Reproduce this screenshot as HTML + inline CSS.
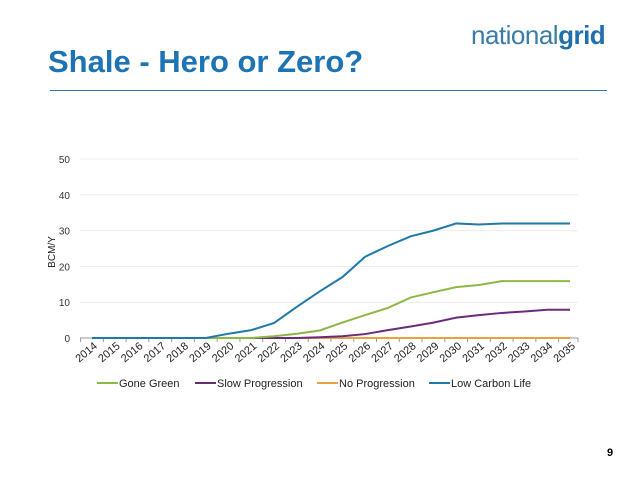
<!DOCTYPE html>
<html><head><meta charset="utf-8"><style>
body{margin:0;width:638px;height:479px;background:#fff;font-family:"Liberation Sans",sans-serif;position:relative;overflow:hidden}
.t{position:absolute}
</style></head><body>
<div class="t" style="left:471px;top:20px;font-size:26px;color:#3a7ca5;letter-spacing:-0.5px">national<b style="color:#1f6fae">grid</b></div>
<div class="t" style="left:48px;top:44px;font-size:31px;font-weight:bold;color:#1c74b4">Shale - Hero or Zero?</div>
<div class="t" style="left:50px;top:90px;width:557px;height:1px;background:#2a7ab5"></div>
<div class="t" style="left:607px;top:447px;font-size:11px;font-weight:bold">9</div>
<svg class="t" style="left:0;top:0" width="638" height="479">
<g id="g"></g>
</svg>
<script>
const years=["2014","2015","2016","2017","2018","2019","2020","2021","2022","2023","2024","2025","2026","2027","2028","2029","2030","2031","2032","2033","2034","2035"];
const goneGreen=[0,0,0,0,0,0,0,0,0.5,1.2,2.1,4.3,6.4,8.4,11.3,12.8,14.2,14.8,15.9,15.9,15.9,15.9];
const slowProgression=[0,0,0,0,0,0,0,0,0,0,0.2,0.5,1.1,2.2,3.2,4.3,5.7,6.4,7.0,7.4,7.9,7.9];
const noProgression=[0,0,0,0,0,0,0,0,0,0,0,0,0,0,0,0,0,0,0,0,0,0];
const lowCarbonLife=[0,0,0,0,0,0,1.2,2.2,4.2,8.7,13,17,22.7,25.7,28.4,30,32,31.7,32,32,32,32];
const yTicks=[0,10,20,30,40,50];
const seriesNames=["Gone Green","Slow Progression","No Progression","Low Carbon Life"];
const colors=["#8cb845","#6a2c7a","#e8a040","#2179aa"];
const NS="http://www.w3.org/2000/svg",g=document.getElementById('g');
const x=i=>92+i*(478/(years.length-1)), y=v=>338-v*3.58;
function el(t,a){const e=document.createElementNS(NS,t);for(const k in a)e.setAttribute(k,a[k]);g.appendChild(e);return e;}
yTicks.forEach(v=>{
 if(v>0){const l=el('line',{x1:80,x2:578,y1:y(v),y2:y(v),stroke:'#ececec'});
 
 }
 const t=el('text',{x:70,y:y(v)+4,'text-anchor':'end','font-size':10,fill:'#333'});t.textContent=v;
 
 
});
const ax=el('line',{x1:80,x2:578,y1:338,y2:338,stroke:'#999'});


years.forEach((yr,i)=>{
 el('line',{x1:x(i)-11.4,x2:x(i)-11.4,y1:338,y2:342,stroke:'#999'});
 const t=el('text',{x:x(i)+6,y:347,'text-anchor':'end','font-size':11,fill:'#222',transform:`rotate(-40 ${x(i)+6} 347)`});t.textContent=yr;
 
 
});
el('line',{x1:578,x2:578,y1:338,y2:342,stroke:'#999'});
const yt=el('text',{x:0,y:0,'font-size':10,fill:'#222','text-anchor':'middle',transform:'translate(55 252) rotate(-90)'});yt.textContent='BCM/Y';


[noProgression,slowProgression,goneGreen,lowCarbonLife].forEach((s,k)=>{
 const ci=[2,1,0,3][k];
 const p=el('polyline',{points:s.map((v,i)=>x(i)+','+y(v)).join(' '),fill:'none',stroke:colors[ci],'stroke-width':2});
 
 
});
const lx=[97,195,317,429];
seriesNames.forEach((n,i)=>{
 el('line',{x1:lx[i],x2:lx[i]+21,y1:383,y2:383,stroke:colors[i],'stroke-width':2});
 const t=el('text',{x:lx[i]+22,y:387,'font-size':11,fill:'#222'});t.textContent=n;
 
 
});
</script>
</body></html>
